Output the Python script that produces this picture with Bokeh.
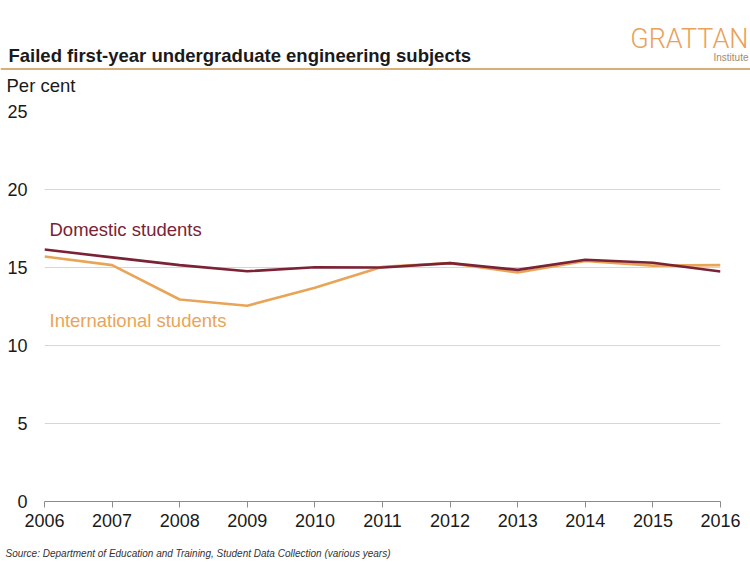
from bokeh.plotting import figure
from bokeh.layouts import column, row
from bokeh.models import Label, FixedTicker, Range1d, Span
from bokeh.embed import file_html
from bokeh.resources import INLINE

years = [2006, 2007, 2008, 2009, 2010, 2011, 2012, 2013, 2014, 2015, 2016]
domestic = [16.15, 15.65, 15.15, 14.76, 15.02, 15.0, 15.28, 14.85, 15.5, 15.3, 14.74]
international = [15.7, 15.15, 12.95, 12.55, 13.7, 15.05, 15.28, 14.68, 15.42, 15.12, 15.15]
y_ticks = [0, 5, 10, 15, 20, 25]

FONT = "Liberation Sans, Arial, sans-serif"
LOGO = "Roboto Light, Roboto, Liberation Sans, sans-serif"
DOM_C = "#7B2335"
INT_C = "#E9A557"
TXT = "#1a1a1a"
W = 750


def blank(height):
    f = figure(width=W, height=height, output_backend="svg", toolbar_location=None,
               x_range=Range1d(0, W), y_range=Range1d(height, 0),
               x_axis_type=None, y_axis_type=None, min_border=0,
               min_border_left=0, min_border_right=0, min_border_top=0, min_border_bottom=0,
               title_location=None)
    f.outline_line_color = None
    f.grid.visible = False
    f.background_fill_color = "white"
    f.border_fill_color = "white"
    return f


# ---------- header ----------
hp = blank(100)
hp.add_layout(Label(x=8, y=54.5, text="Failed first-year undergraduate engineering subjects",
                    text_font=FONT, text_font_size="18.5px", text_font_style="bold",
                    text_color=TXT, text_baseline="middle"))
hp.add_layout(Label(x=748, y=38, text="GRATTAN", text_font=LOGO, text_font_size="27px",
                    text_color="#E8A25A", text_align="right", text_baseline="middle"))
hp.add_layout(Label(x=748, y=57, text="Institute", text_font=FONT, text_font_size="10px",
                    text_color="#A58A6A", text_align="right", text_baseline="middle"))
hp.add_layout(Span(location=68.5, dimension="width", line_color="#D9AE78", line_width=2))
hp.add_layout(Label(x=6, y=85, text="Per cent", text_font=FONT, text_font_size="18.5px",
                    text_color=TXT, text_baseline="middle"))

# ---------- main chart ----------
p = figure(width=W, height=445, output_backend="svg", toolbar_location=None,
           x_range=Range1d(2006, 2016), y_range=Range1d(0, 25), title_location=None,
           min_border_left=44, min_border_right=30, min_border_top=11, min_border_bottom=44)
p.outline_line_color = None
p.background_fill_color = "white"
p.border_fill_color = "white"

ya = p.yaxis[0]
ya.ticker = FixedTicker(ticks=y_ticks)
ya.axis_line_color = None
ya.major_tick_line_color = None
ya.minor_tick_line_color = None
ya.major_tick_in = 0
ya.major_tick_out = 0
ya.major_label_standoff = 17
ya.major_label_text_font = FONT
ya.major_label_text_font_size = "18px"
ya.major_label_text_color = TXT

p.ygrid.grid_line_color = "#d6d6d6"
p.ygrid.grid_line_width = 1
p.xgrid.visible = False

xa = p.xaxis[0]
xa.ticker = FixedTicker(ticks=years)
xa.axis_line_color = "#8c8c8c"
xa.major_tick_line_color = "#8c8c8c"
xa.major_tick_in = 0
xa.major_tick_out = 6
xa.minor_tick_line_color = None
xa.major_label_text_font = FONT
xa.major_label_text_font_size = "18px"
xa.major_label_text_color = TXT
xa.major_label_standoff = 6

p.line(years, international, line_color=INT_C, line_width=2.6)
p.line(years, domestic, line_color=DOM_C, line_width=2.6)

p.add_layout(Label(x=2006.074, y=17.44, text="Domestic students", text_font=FONT,
                   text_font_size="18.5px", text_color=DOM_C, text_baseline="middle"))
p.add_layout(Label(x=2006.074, y=11.6, text="International students", text_font=FONT,
                   text_font_size="18.5px", text_color=INT_C, text_baseline="middle"))

# ---------- footer ----------
fp = blank(17)
fp.add_layout(Label(x=5, y=8, text="Source: Department of Education and Training, Student Data Collection (various years)",
                    text_font=FONT, text_font_size="10px", text_font_style="italic",
                    text_color="#333333", text_baseline="middle"))

layout = column(row(hp, spacing=0), p, row(fp, spacing=0), spacing=0)
open("out.html", "w").write(file_html(layout, INLINE))
